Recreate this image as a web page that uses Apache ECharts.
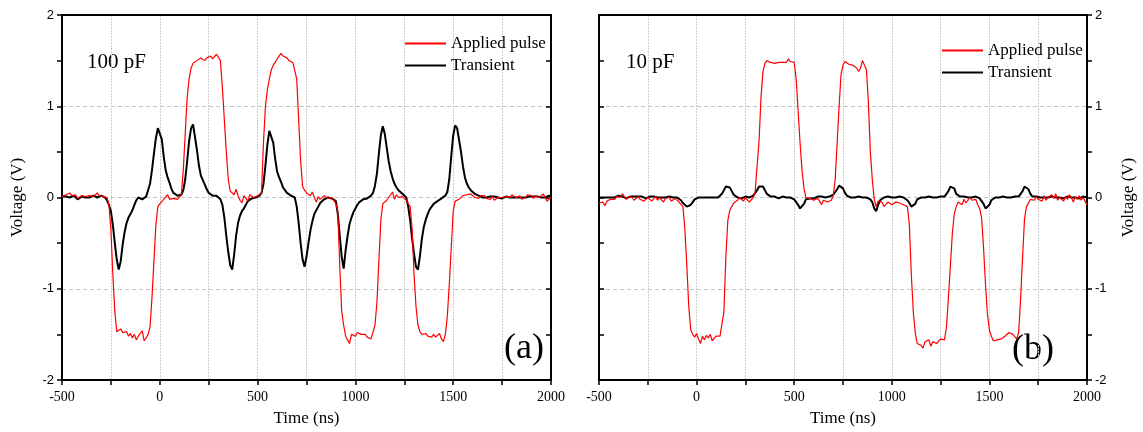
<!DOCTYPE html>
<html>
<head>
<meta charset="utf-8">
<script src="https://cdn.jsdelivr.net/npm/echarts@6/dist/echarts.min.js"></script>
<style>html,body{margin:0;padding:0;background:#fff}#c{width:1143px;height:432px}</style>
</head>
<body>
<div id="c"></div>
<script>
// Time grid (ns)
const T = [
-500,-490,-480,-470,-460,-450,-440,-430,-420,-410,
-400,-390,-380,-370,-360,-350,-340,-330,-320,-310,
-300,-290,-280,-270,-260,-250,-240,-230,-220,-210,
-200,-190,-180,-170,-160,-150,-140,-130,-120,-110,
-100,-90,-80,-70,-60,-50,-40,-30,-20,-10,
0,10,20,30,40,50,60,70,80,90,
100,110,120,130,140,150,160,170,180,190,
200,210,220,230,240,250,260,270,280,290,
300,310,320,330,340,350,360,370,380,390,
400,410,420,430,440,450,460,470,480,490,
500,510,520,530,540,550,560,570,580,590,
600,610,620,630,640,650,660,670,680,690,
700,710,720,730,740,750,760,770,780,790,
800,810,820,830,840,850,860,870,880,890,
900,910,920,930,940,950,960,970,980,990,
1000,1010,1020,1030,1040,1050,1060,1070,1080,1090,
1100,1110,1120,1130,1140,1150,1160,1170,1180,1190,
1200,1210,1220,1230,1240,1250,1260,1270,1280,1290,
1300,1310,1320,1330,1340,1350,1360,1370,1380,1390,
1400,1410,1420,1430,1440,1450,1460,1470,1480,1490,
1500,1510,1520,1530,1540,1550,1560,1570,1580,1590,
1600,1610,1620,1630,1640,1650,1660,1670,1680,1690,
1700,1710,1720,1730,1740,1750,1760,1770,1780,1790,
1800,1810,1820,1830,1840,1850,1860,1870,1880,1890,
1900,1910,1920,1930,1940,1950,1960,1970,1980,1990,
2000];

// (a) 100 pF - Applied pulse (V)
const pulse100 = [
0.01,0.0,0.03,0.02,0.05,0.02,0.0,0.03,-0.01,0.01,
0.02,0.04,0.01,0.0,0.02,0.04,0.01,0.03,0.05,0.02,
0.03,0.01,0.02,0.0,-0.08,-0.35,-0.85,-1.25,-1.47,-1.45,
-1.44,-1.48,-1.46,-1.47,-1.52,-1.49,-1.54,-1.5,-1.56,-1.52,
-1.5,-1.46,-1.57,-1.54,-1.5,-1.42,-1.1,-0.7,-0.3,-0.1,
-0.07,-0.05,-0.02,0.0,0.03,-0.02,-0.03,-0.01,-0.03,-0.02,
0.0,0.03,0.3,0.7,1.1,1.3,1.42,1.47,1.45,1.5,
1.48,1.53,1.52,1.5,1.53,1.52,1.55,1.52,1.54,1.57,
1.58,1.5,1.2,0.85,0.5,0.2,0.07,0.08,0.03,0.09,
0.02,-0.03,-0.06,0.02,0.0,-0.04,0.03,0.01,0.0,-0.01,
0.02,0.0,0.05,0.6,1.0,1.18,1.3,1.4,1.45,1.48,
1.52,1.55,1.58,1.55,1.56,1.53,1.5,1.51,1.48,1.47,
1.3,0.85,0.4,0.12,0.08,0.05,0.07,0.02,0.06,0.0,
-0.05,0.01,-0.02,0.0,0.02,0.0,-0.01,0.01,0.0,-0.03,
-0.07,-0.15,-0.75,-1.25,-1.4,-1.52,-1.56,-1.6,-1.5,-1.49,
-1.52,-1.48,-1.5,-1.5,-1.52,-1.5,-1.53,-1.54,-1.55,-1.54,
-1.4,-1.15,-0.7,-0.25,-0.07,-0.06,-0.03,0.0,-0.01,0.06,
-0.02,0.03,0.0,0.02,0.01,0.0,-0.03,-0.05,-0.1,-0.35,
-0.85,-1.2,-1.4,-1.47,-1.5,-1.51,-1.49,-1.52,-1.51,-1.53,
-1.5,-1.53,-1.51,-1.49,-1.55,-1.58,-1.5,-1.3,-0.95,-0.55,
-0.15,-0.04,-0.03,-0.02,0.0,0.02,0.01,0.03,0.05,0.04,
0.02,0.0,0.01,-0.01,0.02,0.0,0.02,-0.01,0.0,-0.02,
0.01,-0.03,-0.05,0.0,0.01,0.0,0.02,0.01,-0.01,0.0,
0.03,0.01,0.0,-0.01,0.02,-0.02,-0.01,0.0,0.03,0.05,
0.02,-0.01,0.02,0.03,0.0,-0.02,0.04,0.03,-0.04,-0.03,
0.0];

// (a) 100 pF - Transient (V)
const trans100 = [
0.01,0.02,0.01,0.02,0.0,0.01,0.02,0.0,-0.02,0.0,
0.01,0.02,0.0,0.01,0.0,0.01,0.02,0.01,0.0,0.01,
0.02,0.01,0.0,-0.03,-0.08,-0.15,-0.3,-0.5,-0.68,-0.79,
-0.7,-0.52,-0.38,-0.28,-0.22,-0.18,-0.14,-0.08,-0.03,0.0,
0.0,-0.02,0.0,0.01,0.08,0.15,0.3,0.48,0.65,0.76,
0.77,0.64,0.45,0.3,0.22,0.16,0.09,0.05,0.03,0.02,
0.01,0.03,0.08,0.2,0.4,0.62,0.76,0.8,0.66,0.52,
0.35,0.24,0.19,0.14,0.09,0.05,0.03,0.02,0.02,0.02,
0.01,-0.02,-0.08,-0.22,-0.42,-0.6,-0.74,-0.79,-0.63,-0.42,
-0.28,-0.2,-0.15,-0.12,-0.08,-0.04,-0.02,-0.01,0.0,0.0,
0.01,0.02,0.05,0.15,0.35,0.58,0.73,0.72,0.6,0.42,
0.28,0.22,0.17,0.11,0.08,0.05,0.03,0.02,0.02,0.0,
-0.1,-0.28,-0.5,-0.68,-0.76,-0.65,-0.5,-0.36,-0.26,-0.18,
-0.14,-0.1,-0.06,-0.04,-0.02,-0.01,0.0,0.0,-0.01,-0.02,
-0.04,-0.18,-0.42,-0.65,-0.78,-0.58,-0.42,-0.29,-0.22,-0.16,
-0.12,-0.08,-0.05,-0.03,-0.02,-0.01,-0.01,0.0,0.02,0.05,
0.13,0.26,0.48,0.68,0.78,0.7,0.55,0.4,0.29,0.21,
0.15,0.11,0.08,0.06,0.04,0.02,0.0,-0.1,-0.25,-0.45,
-0.62,-0.76,-0.79,-0.64,-0.45,-0.32,-0.24,-0.18,-0.13,-0.1,
-0.07,-0.05,-0.04,-0.03,-0.01,0.0,0.02,0.06,0.2,0.45,
0.68,0.79,0.76,0.63,0.5,0.34,0.22,0.15,0.11,0.08,
0.06,0.04,0.03,0.02,0.01,0.0,0.01,0.0,-0.01,0.01,
0.0,0.01,0.02,0.0,0.01,-0.01,0.0,0.01,0.02,0.0,
0.01,0.0,-0.01,0.0,0.01,0.0,-0.01,0.0,0.02,0.01,
0.0,0.01,0.0,0.01,0.02,0.0,-0.01,0.0,0.01,0.02,
0.01];

// (b) 10 pF - Applied pulse (V)
const pulse10 = [
-0.06,-0.08,-0.05,-0.09,-0.04,-0.05,-0.02,0.0,-0.02,0.01,
0.03,0.0,0.04,0.01,-0.02,0.01,-0.01,0.0,-0.03,-0.02,
0.01,-0.02,0.0,-0.04,-0.03,0.0,-0.01,-0.04,-0.02,0.01,
-0.03,0.0,-0.02,-0.05,-0.01,-0.03,0.0,-0.04,-0.02,-0.01,
-0.03,-0.05,-0.04,-0.1,-0.35,-0.75,-1.2,-1.45,-1.5,-1.53,
-1.49,-1.55,-1.6,-1.52,-1.56,-1.51,-1.54,-1.5,-1.57,-1.55,
-1.52,-1.5,-1.52,-1.5,-1.25,-0.65,-0.25,-0.14,-0.1,-0.06,
-0.04,-0.03,0.0,-0.02,-0.04,0.0,-0.02,-0.05,-0.03,0.0,
0.06,0.35,0.62,1.1,1.38,1.47,1.5,1.49,1.48,1.5,
1.47,1.49,1.48,1.46,1.48,1.49,1.48,1.52,1.49,1.5,
1.48,1.3,0.95,0.6,0.3,0.1,0.0,0.02,-0.01,0.0,
-0.03,-0.05,-0.01,-0.04,-0.08,-0.03,-0.02,-0.05,-0.06,-0.03,
0.02,0.2,0.6,1.0,1.35,1.45,1.49,1.48,1.46,1.47,
1.45,1.47,1.42,1.38,1.42,1.5,1.48,1.4,1.05,0.5,
0.2,-0.02,-0.1,-0.04,-0.06,-0.05,-0.1,-0.12,-0.05,-0.06,
-0.08,-0.06,-0.05,-0.07,-0.06,-0.05,-0.08,-0.1,-0.1,-0.3,
-0.85,-1.25,-1.48,-1.6,-1.58,-1.62,-1.65,-1.58,-1.6,-1.56,
-1.63,-1.58,-1.56,-1.6,-1.58,-1.55,-1.57,-1.56,-1.42,-1.1,
-0.75,-0.4,-0.18,-0.1,-0.05,-0.06,-0.08,-0.02,-0.06,-0.04,
0.0,-0.03,-0.05,-0.02,-0.08,-0.12,-0.22,-0.55,-0.95,-1.28,
-1.45,-1.52,-1.57,-1.55,-1.56,-1.54,-1.55,-1.53,-1.52,-1.5,
-1.48,-1.47,-1.5,-1.52,-1.55,-1.48,-1.1,-0.65,-0.23,-0.1,
-0.06,-0.02,0.0,-0.03,0.01,-0.02,0.0,-0.04,0.02,-0.03,
0.0,-0.02,0.03,-0.01,0.04,-0.03,0.0,0.02,-0.04,0.01,
-0.02,0.03,0.0,-0.05,0.01,-0.02,0.02,-0.03,0.0,-0.04,
-0.08];

// (b) 10 pF - Transient (V)
const trans10 = [
0.0,0.01,0.0,0.01,0.0,-0.01,0.0,0.01,0.0,0.01,
0.02,0.0,0.01,0.0,-0.01,0.0,0.01,0.0,0.01,0.0,
0.01,0.0,0.01,0.0,-0.01,0.0,0.01,0.0,0.01,0.0,
0.0,0.01,0.0,0.01,0.0,0.0,0.01,0.0,0.0,0.01,
0.0,-0.01,-0.03,-0.06,-0.08,-0.1,-0.11,-0.08,-0.05,-0.02,
0.0,0.0,0.01,0.0,0.01,0.0,0.01,0.0,0.01,0.0,
0.01,0.0,0.02,0.04,0.08,0.12,0.14,0.11,0.07,0.03,
0.01,0.0,0.01,-0.01,0.0,0.01,0.0,0.0,0.01,0.02,
0.04,0.08,0.12,0.14,0.12,0.08,0.04,0.02,0.01,0.0,
0.01,0.0,-0.01,0.0,0.01,0.0,0.0,0.01,0.0,-0.01,
-0.02,-0.05,-0.08,-0.12,-0.13,-0.07,-0.02,0.0,-0.01,-0.03,
-0.01,0.0,0.01,0.0,0.01,0.0,0.0,0.01,0.01,0.02,
0.03,0.05,0.09,0.13,0.14,0.1,0.05,0.02,0.01,0.0,
0.01,0.0,0.0,0.01,0.0,0.0,0.01,0.0,-0.01,-0.02,
-0.05,-0.12,-0.15,-0.08,-0.03,-0.01,0.0,0.0,0.01,0.0,
0.0,0.01,0.0,0.0,0.01,0.0,0.0,-0.01,-0.03,-0.06,
-0.1,-0.12,-0.07,-0.02,0.0,0.0,0.01,0.0,0.0,0.01,
0.0,0.0,0.01,0.0,0.0,0.01,0.0,0.01,0.03,0.07,
0.12,0.14,0.1,0.04,0.02,0.01,0.0,0.01,0.0,0.0,
0.01,0.0,0.0,0.01,0.0,-0.01,-0.03,-0.07,-0.12,-0.14,
-0.08,-0.03,-0.01,0.0,0.01,0.0,0.0,0.01,0.0,0.0,
0.01,0.0,0.0,0.01,0.0,0.01,0.03,0.07,0.12,0.14,
0.09,0.04,0.01,0.0,0.01,0.0,0.0,0.01,0.0,-0.01,
0.0,0.0,0.01,0.0,0.0,0.01,0.0,0.0,-0.01,0.0,
0.01,0.0,0.0,0.01,0.0,0.0,-0.01,0.0,0.01,0.0,
0.0];

const seriesNames = ['Applied pulse', 'Transient'];
const panelLabels = ['100 pF', '10 pF'];
const panelTags = ['(a)', '(b)'];
const xName = 'Time (ns)';
const yName = 'Voltage (V)';

const SERIF = '"Liberation Serif","Times New Roman",serif';
const SANS = '"Liberation Sans",Arial,sans-serif';
const BLACK = '#000';
const RED = '#ff0000';

function pairs(vals) { return T.map((t, i) => [t, vals[i]]); }

function xMain(grid) {
  return {
    gridIndex: grid, type: 'value', min: -500, max: 2000, interval: 250,
    position: 'bottom',
    name: xName, nameLocation: 'middle', nameGap: 30,
    nameTextStyle: { fontFamily: SERIF, fontSize: 17, color: BLACK },
    axisLine: { show: true, onZero: false, lineStyle: { color: BLACK, width: 2 } },
    axisTick: { show: true, inside: false, length: 5, lineStyle: { color: BLACK, width: 1.5 } },
    axisLabel: { fontFamily: SERIF, fontSize: 14, color: BLACK, margin: 10,
      formatter: v => (v % 500 === 0 ? String(v) : '') },
    splitLine: { show: true, lineStyle: { color: '#cccccc', width: 1, type: [2, 1] } }
  };
}
function xTop(grid) {
  return {
    gridIndex: grid, type: 'value', min: -500, max: 2000, interval: 250,
    position: 'top',
    axisLine: { show: true, onZero: false, lineStyle: { color: BLACK, width: 2 } },
    axisTick: { show: false }, axisLabel: { show: false }, splitLine: { show: false }
  };
}
function yAxisDef(grid, pos, labelled) {
  const y = {
    gridIndex: grid, type: 'value', min: -2, max: 2, interval: 1, position: pos,
    axisLine: { show: true, onZero: false, lineStyle: { color: BLACK, width: 2 } },
    axisTick: { show: true, inside: !labelled, length: 5, lineStyle: { color: BLACK, width: 1.5 } },
    minorTick: { show: true, splitNumber: 2, length: 5, lineStyle: { color: BLACK, width: 1.5 } },
    axisLabel: { show: labelled, fontFamily: SANS, fontSize: 13, color: BLACK, margin: 8 },
    splitLine: { show: labelled, lineStyle: { color: '#c4c4c4', width: 1, type: [4, 3] } }
  };
  if (labelled) {
    y.name = yName; y.nameLocation = 'middle';
    y.nameGap = pos === 'left' ? 36 : 33;
    y.nameTextStyle = { fontFamily: SERIF, fontSize: 17, color: BLACK };
  }
  return y;
}

function lineSeries(name, vals, xi, yi, color, width) {
  return {
    name: name, type: 'line', xAxisIndex: xi, yAxisIndex: yi,
    data: pairs(vals), showSymbol: false, symbol: 'none',
    lineStyle: { color: color, width: width }, itemStyle: { color: color },
    animation: false, silent: true
  };
}

function legendDef(left, top) {
  return {
    data: seriesNames, orient: 'vertical', left: left, top: top, padding: 0,
    itemWidth: 41, itemHeight: 14, itemGap: 5, selectedMode: false,
    itemStyle: { opacity: 0, borderWidth: 0 },
    textStyle: { fontFamily: SERIF, fontSize: 17, color: BLACK }
  };
}

const chart = echarts.init(document.getElementById('c'), null, { renderer: 'canvas' });
chart.setOption({
  animation: false,
  backgroundColor: '#fff',
  grid: [
    { left: 62, top: 15, width: 489, height: 367 },
    { left: 599, top: 15, width: 488, height: 367 }
  ],
  xAxis: [xMain(0), xTop(0), xMain(1), xTop(1)],
  yAxis: [yAxisDef(0, 'left', true), yAxisDef(0, 'right', false),
          yAxisDef(1, 'right', true), yAxisDef(1, 'left', false)],
  legend: [legendDef(404, 35), legendDef(941, 42)],
  graphic: [
    { type: 'text', x: 87, y: 62, style: { text: panelLabels[0], font: '21px ' + SERIF, fill: BLACK, align: 'left', verticalAlign: 'middle' } },
    { type: 'text', x: 626, y: 62, style: { text: panelLabels[1], font: '21px ' + SERIF, fill: BLACK, align: 'left', verticalAlign: 'middle' } },
    { type: 'text', x: 504, y: 349, style: { text: panelTags[0], font: '36px ' + SERIF, fill: BLACK, align: 'left', verticalAlign: 'middle' } },
    { type: 'text', x: 1012, y: 350, style: { text: panelTags[1], font: '36px ' + SERIF, fill: BLACK, align: 'left', verticalAlign: 'middle' } }
  ],
  series: [
    lineSeries(seriesNames[1], trans100, 0, 0, BLACK, 2),
    lineSeries(seriesNames[0], pulse100, 0, 0, RED, 1.2),
    lineSeries(seriesNames[1], trans10, 2, 2, BLACK, 2),
    lineSeries(seriesNames[0], pulse10, 2, 2, RED, 1.2)
  ]
});
</script>
</body>
</html>
